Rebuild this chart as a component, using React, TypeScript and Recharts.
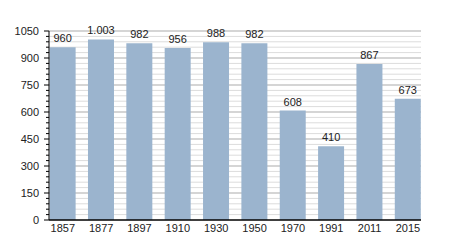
import { BarChart, Bar, XAxis, YAxis, CartesianGrid, LabelList } from "recharts";

const years = ["1857", "1877", "1897", "1910", "1930", "1950", "1970", "1991", "2011", "2015"];
const population = [960, 1003, 982, 956, 988, 982, 608, 410, 867, 673];
const yTicks = Array.from({ length: 36 }, (_, i) => i * 30);
const majorStep = 150;

const data = years.map((year, i) => ({ idx: i, year, population: population[i] }));

const formatPop = (v: number) => String(v).replace(/\B(?=(\d{3})+(?!\d))/g, ".");

const AXIS_X = 49;
const font = "'Liberation Sans', Arial, sans-serif";

const YTick = (props: any) => {
  const { y, payload } = props;
  const major = payload.value % majorStep === 0;
  return (
    <g>
      <line x1={AXIS_X - (major ? 5 : 3)} x2={AXIS_X} y1={y} y2={y} stroke="#000" strokeWidth={1} />
      {major && (
        <text x={39} y={y} dy={4} textAnchor="end" fontSize={11} fill="#222" fontFamily={font}>
          {payload.value}
        </text>
      )}
    </g>
  );
};

// grid line per y tick, darker on the major steps
const gridLine = (props: any) => {
  const { x1, x2, y1, y2, index } = props;
  const v = yTicks[index];
  if (v === 0) return <g key={props.key} />;
  return (
    <line
      key={props.key}
      x1={x1}
      x2={x2}
      y1={y1}
      y2={y2}
      stroke={v % majorStep === 0 ? "#ababab" : "#dcdcdc"}
      strokeWidth={1}
    />
  );
};

export default function App() {
  return (
    <div style={{ position: "absolute", left: 0, top: 0, background: "#fff" }}>
      <BarChart
        width={450}
        height={250}
        data={data}
        margin={{ top: 31, right: 29, bottom: 0, left: 0 }}
        style={{ fontFamily: font }}
      >
        <CartesianGrid vertical={false} horizontal={gridLine} />
        <XAxis
          dataKey="idx"
          type="number"
          height={30}
          domain={[-0.36, 9.34]}
          ticks={years.map((_, i) => i)}
          interval={0}
          allowDataOverflow
          tickFormatter={(i: number) => years[i]}
          tickLine={false}
          tickSize={0}
          tickMargin={4}
          axisLine={{ stroke: "#000", strokeWidth: 1.5 }}
          tick={{ fontSize: 11, fill: "#222", fontFamily: font }}
        />
        <YAxis
          width={AXIS_X}
          domain={[0, 1050]}
          ticks={yTicks}
          interval={0}
          tickLine={false}
          axisLine={{ stroke: "#000", strokeWidth: 1 }}
          tick={<YTick />}
        />
        <Bar dataKey="population" fill="#9BB4CE" barSize={26} isAnimationActive={false}>
          <LabelList
            dataKey="population"
            position="top"
            offset={5}
            formatter={(v: any) => formatPop(Number(v))}
            style={{ fontSize: 11, fill: "#222", fontFamily: font }}
          />
        </Bar>
      </BarChart>
    </div>
  );
}
